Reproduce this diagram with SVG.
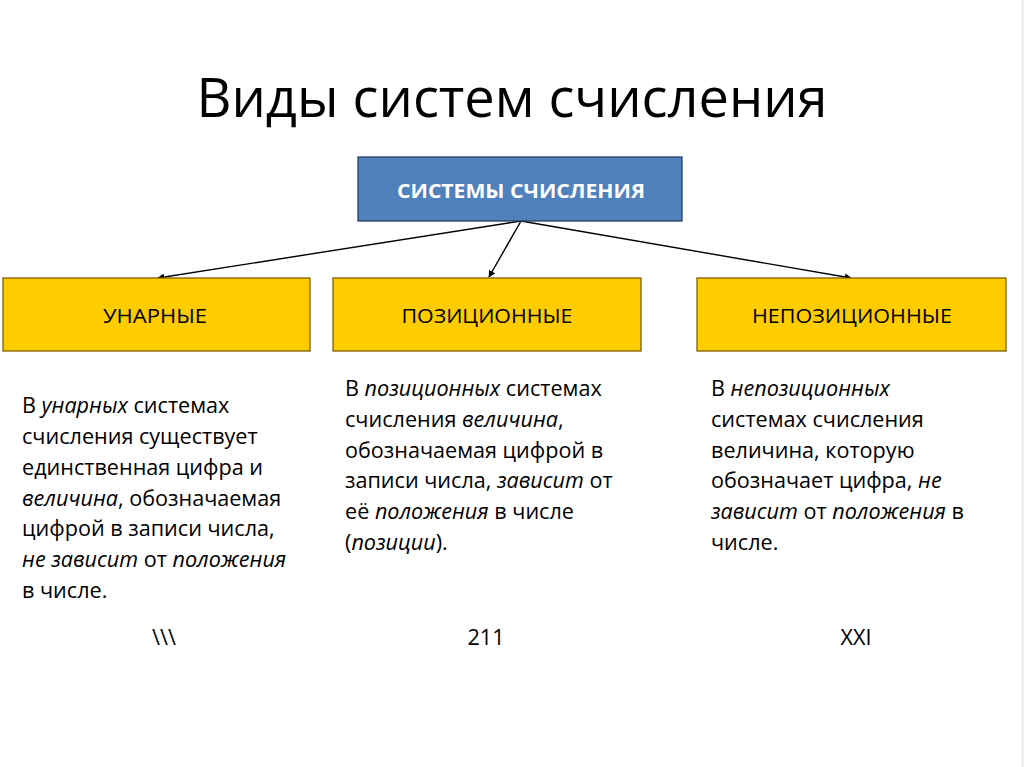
<svg xmlns="http://www.w3.org/2000/svg" width="1024" height="767" viewBox="0 0 1024 767">
<style>
text{font-family:"Open Sans","Noto Sans","Liberation Sans",sans-serif;fill:#000}
.title{font-size:55px}
.body{font-size:21.6px}
.lbl{font-size:20px;text-anchor:middle}
.ex{font-size:21.6px;text-anchor:middle}
.hdr{font-size:20px;font-weight:bold;fill:#fff;text-anchor:middle}
.i{font-style:italic}
.yb{fill:#ffcc00;stroke:#7f6000;stroke-width:1.3}
.bb{fill:#4f81bd;stroke:#243f60;stroke-width:1.3}
.con{stroke:#000;stroke-width:1.4;fill:none;marker-end:url(#ah)}
</style>
<defs>
<marker id="ah" viewBox="0 0 10 10" refX="9" refY="5" markerWidth="7" markerHeight="7" orient="auto" markerUnits="userSpaceOnUse">
<path d="M0,0 L10,5 L0,10 z" fill="#000"/>
</marker>
</defs>
<rect x="0" y="0" width="1024" height="767" fill="#ffffff"/>
<rect x="1021" y="0" width="3" height="767" fill="#f0f0f0"/>
<text id="title" class="title" x="512" y="117" text-anchor="middle" textLength="631" lengthAdjust="spacingAndGlyphs">Виды систем счисления</text>
<g id="connectors">
<line class="con" x1="521" y1="221" x2="158" y2="278"/>
<line class="con" x1="521" y1="221" x2="489" y2="277"/>
<line class="con" x1="521" y1="221" x2="851" y2="278"/>
</g>
<g id="root">
<rect class="bb" x="358" y="157" width="324" height="64"/>
<text class="hdr" x="521" y="198" textLength="248" lengthAdjust="spacingAndGlyphs">СИСТЕМЫ СЧИСЛЕНИЯ</text>
</g>
<g id="unary">
<rect class="yb" x="3" y="278" width="307" height="73"/>
<text class="lbl" x="155" y="323" textLength="104" lengthAdjust="spacingAndGlyphs">УНАРНЫЕ</text>
</g>
<g id="positional">
<rect class="yb" x="333" y="278" width="308" height="73"/>
<text class="lbl" x="487" y="323" textLength="171" lengthAdjust="spacingAndGlyphs">ПОЗИЦИОННЫЕ</text>
</g>
<g id="nonpositional">
<rect class="yb" x="697" y="278" width="309" height="73"/>
<text class="lbl" x="852" y="323" textLength="200" lengthAdjust="spacingAndGlyphs">НЕПОЗИЦИОННЫЕ</text>
</g>
<g id="unary-text">
<text class="body" x="22" y="413">В <tspan class="i">унарных</tspan> системах</text>
<text class="body" x="22" y="444">счисления существует</text>
<text class="body" x="22" y="475">единственная цифра и</text>
<text class="body" x="22" y="506"><tspan class="i">величина</tspan>, обозначаемая</text>
<text class="body" x="22" y="536">цифрой в записи числа,</text>
<text class="body" x="22" y="567"><tspan class="i">не зависит</tspan> от <tspan class="i">положения</tspan></text>
<text class="body" x="22" y="598">в числе.</text>
</g>
<g id="positional-text">
<text class="body" x="345" y="396">В <tspan class="i">позиционных</tspan> системах</text>
<text class="body" x="345" y="427">счисления <tspan class="i">величина</tspan>,</text>
<text class="body" x="345" y="458">обозначаемая цифрой в</text>
<text class="body" x="345" y="488">записи числа, <tspan class="i">зависит</tspan> от</text>
<text class="body" x="345" y="519">её <tspan class="i">положения</tspan> в числе</text>
<text class="body" x="345" y="550">(<tspan class="i">позиции</tspan>).</text>
</g>
<g id="nonpositional-text">
<text class="body" x="711" y="396">В <tspan class="i">непозиционных</tspan></text>
<text class="body" x="711" y="427">системах счисления</text>
<text class="body" x="711" y="458">величина, которую</text>
<text class="body" x="711" y="488">обозначает цифра, <tspan class="i">не</tspan></text>
<text class="body" x="711" y="519"><tspan class="i">зависит</tspan> от <tspan class="i">положения</tspan> в</text>
<text class="body" x="711" y="550">числе.</text>
</g>
<g id="examples">
<text class="ex" x="164" y="645">\\\</text>
<text class="ex" x="486" y="645">211</text>
<text class="ex" x="856" y="645">XXI</text>
</g>
</svg>
